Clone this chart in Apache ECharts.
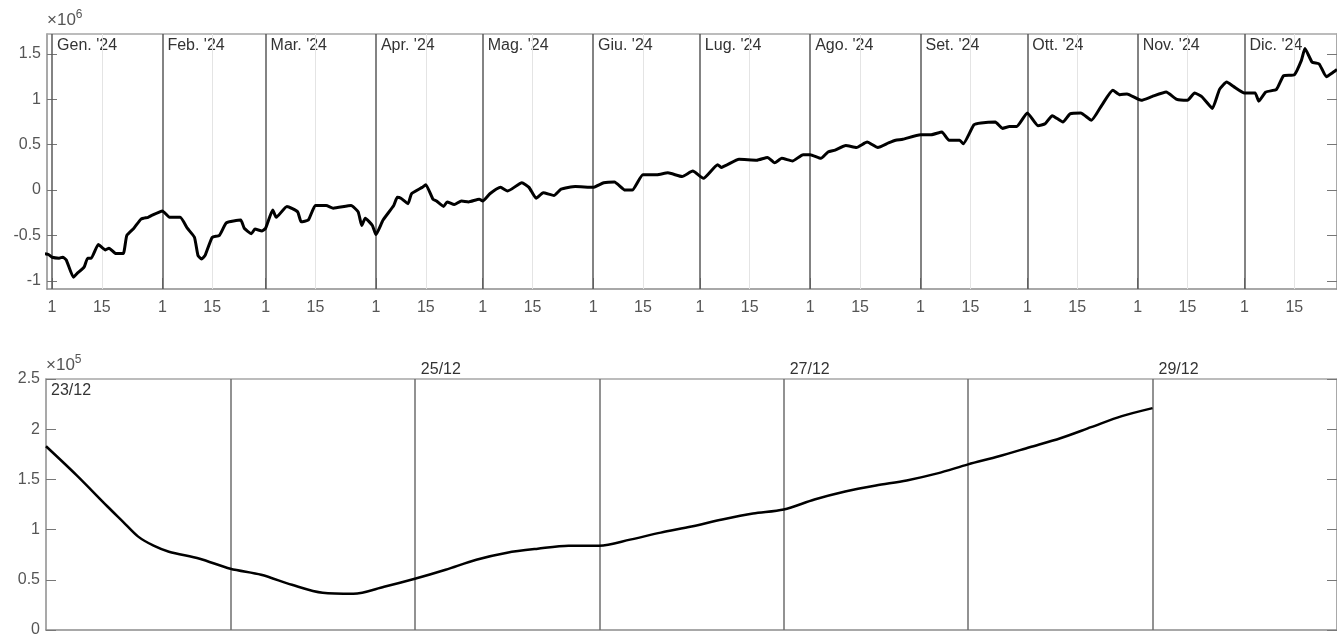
<!DOCTYPE html>
<html>
<head>
<meta charset="utf-8">
<script src="https://cdn.jsdelivr.net/npm/echarts@6/dist/echarts.min.js"></script>
<style>
html,body{margin:0;padding:0;background:#fff}
#chart{width:1337px;height:638px}
</style>
</head>
<body>
<div id="chart"></div>
<script>
// pannello annuale (valori in unità di 10^6)
var yearDates = ['2023-12-30','2023-12-31','2024-01-01','2024-01-03','2024-01-04','2024-01-05','2024-01-07','2024-01-08','2024-01-10','2024-01-11','2024-01-12','2024-01-14','2024-01-16','2024-01-17','2024-01-19','2024-01-21','2024-01-22','2024-01-24','2024-01-26','2024-01-28','2024-01-29',
  '2024-02-01','2024-02-03','2024-02-06','2024-02-08','2024-02-10','2024-02-11','2024-02-12','2024-02-13','2024-02-15','2024-02-17','2024-02-19','2024-02-23','2024-02-24','2024-02-26','2024-02-27','2024-02-29',
  '2024-03-01','2024-03-03','2024-03-04','2024-03-07','2024-03-10','2024-03-11','2024-03-13','2024-03-15','2024-03-18','2024-03-20','2024-03-25','2024-03-27','2024-03-28','2024-03-29','2024-03-31',
  '2024-04-01','2024-04-03','2024-04-06','2024-04-07','2024-04-08','2024-04-10','2024-04-11','2024-04-14','2024-04-15','2024-04-17','2024-04-18','2024-04-20','2024-04-21','2024-04-23','2024-04-25','2024-04-27','2024-04-30',
  '2024-05-01','2024-05-03','2024-05-06','2024-05-08','2024-05-12','2024-05-14','2024-05-16','2024-05-18','2024-05-21','2024-05-23','2024-05-27',
  '2024-06-01','2024-06-04','2024-06-07','2024-06-10','2024-06-12','2024-06-15','2024-06-19','2024-06-22','2024-06-26','2024-06-29',
  '2024-07-02','2024-07-06','2024-07-07','2024-07-12','2024-07-17','2024-07-20','2024-07-22','2024-07-24','2024-07-27','2024-07-30',
  '2024-08-01','2024-08-04','2024-08-06','2024-08-08','2024-08-11','2024-08-14','2024-08-17','2024-08-20','2024-08-23','2024-08-25','2024-08-27',
  '2024-09-01','2024-09-04','2024-09-07','2024-09-09','2024-09-12','2024-09-13','2024-09-16','2024-09-18','2024-09-22','2024-09-24','2024-09-26','2024-09-28',
  '2024-10-01','2024-10-04','2024-10-06','2024-10-08','2024-10-11','2024-10-13','2024-10-16','2024-10-19','2024-10-22','2024-10-25','2024-10-27','2024-10-29',
  '2024-11-02','2024-11-05','2024-11-09','2024-11-12','2024-11-15','2024-11-17','2024-11-19','2024-11-21','2024-11-22','2024-11-24','2024-11-26','2024-11-28',
  '2024-12-01','2024-12-04','2024-12-05','2024-12-07','2024-12-10','2024-12-12','2024-12-15','2024-12-17','2024-12-18','2024-12-20','2024-12-22','2024-12-24','2024-12-26','2024-12-27']
var yearValues = [-0.70,-0.71,-0.74,-0.75,-0.74,-0.77,-0.96,-0.92,-0.85,-0.75,-0.75,-0.60,-0.66,-0.64,-0.70,-0.70,-0.50,-0.42,-0.32,-0.30,-0.28,
  -0.23,-0.30,-0.30,-0.42,-0.52,-0.72,-0.76,-0.72,-0.52,-0.50,-0.36,-0.33,-0.42,-0.48,-0.43,-0.45,
  -0.42,-0.22,-0.30,-0.18,-0.24,-0.35,-0.33,-0.17,-0.17,-0.20,-0.17,-0.24,-0.39,-0.31,-0.39,
  -0.49,-0.33,-0.17,-0.08,-0.09,-0.15,-0.04,0.03,0.06,-0.10,-0.12,-0.18,-0.13,-0.16,-0.12,-0.13,-0.10,
  -0.12,-0.04,0.03,-0.01,0.08,0.03,-0.09,-0.03,-0.06,0.01,0.04,
  0.03,0.08,0.09,0.00,0.00,0.17,0.17,0.19,0.15,0.21,
  0.13,0.28,0.25,0.34,0.33,0.36,0.30,0.35,0.32,0.39,
  0.39,0.35,0.42,0.44,0.49,0.47,0.53,0.47,0.52,0.55,0.56,
  0.61,0.61,0.64,0.55,0.55,0.51,0.72,0.74,0.75,0.68,0.70,0.70,
  0.85,0.71,0.73,0.82,0.75,0.84,0.85,0.77,0.94,1.10,1.05,1.06,
  0.99,1.03,1.08,1.00,0.99,1.07,1.03,0.94,0.90,1.11,1.19,1.14,
  1.07,1.07,0.98,1.08,1.11,1.26,1.27,1.43,1.56,1.41,1.39,1.25,1.30,1.33]
var monthStarts = ['2024-01-01','2024-02-01','2024-03-01','2024-04-01','2024-05-01','2024-06-01','2024-07-01','2024-08-01','2024-09-01','2024-10-01','2024-11-01','2024-12-01']
var monthNames = ["Gen. '24","Feb. '24","Mar. '24","Apr. '24","Mag. '24","Giu. '24","Lug. '24","Ago. '24","Set. '24","Ott. '24","Nov. '24","Dic. '24"]
var midMonths = ['2024-01-15','2024-02-15','2024-03-15','2024-04-15','2024-05-15','2024-06-15','2024-07-15','2024-08-15','2024-09-15','2024-10-15','2024-11-15','2024-12-15']
var yearTicks = [-1,-0.5,0,0.5,1,1.5]

// pannello dettaglio 23-29/12 (valori in unità di 10^5)
var detailTimes = ['2024-12-23 00:00','2024-12-23 04:00','2024-12-23 08:00','2024-12-23 10:00','2024-12-23 12:00','2024-12-23 14:00','2024-12-23 16:00','2024-12-23 20:00',
  '2024-12-24 00:00','2024-12-24 04:00','2024-12-24 08:00','2024-12-24 12:00','2024-12-24 16:00','2024-12-24 20:00',
  '2024-12-25 00:00','2024-12-25 04:00','2024-12-25 08:00','2024-12-25 12:00','2024-12-25 16:00','2024-12-25 20:00',
  '2024-12-26 00:00','2024-12-26 04:00','2024-12-26 08:00','2024-12-26 12:00','2024-12-26 16:00','2024-12-26 20:00',
  '2024-12-27 00:00','2024-12-27 04:00','2024-12-27 08:00','2024-12-27 12:00','2024-12-27 16:00','2024-12-27 20:00',
  '2024-12-28 00:00','2024-12-28 04:00','2024-12-28 08:00','2024-12-28 12:00','2024-12-28 16:00','2024-12-28 20:00',
  '2024-12-29 00:00']
var detailValues = [1.83,1.54,1.23,1.08,0.93,0.84,0.78,0.71,
  0.61,0.55,0.45,0.37,0.36,0.43,
  0.51,0.60,0.70,0.77,0.81,0.84,
  0.84,0.90,0.97,1.03,1.10,1.16,
  1.20,1.30,1.38,1.44,1.49,1.56,
  1.65,1.73,1.82,1.91,2.02,2.13,
  2.21]
var dayLines = ['2024-12-24','2024-12-25','2024-12-26','2024-12-27','2024-12-28','2024-12-29']
var dayLabelDates = ['2024-12-25','2024-12-27','2024-12-29']
var firstDay = '2024-12-23'
var detailTicks = [0,0.5,1,1.5,2,2.5]

var ts = function(s){
  var p = s.split(/[- :]/)
  return new Date(+p[0], p[1]-1, +p[2], +(p[3]||0), +(p[4]||0)).getTime()
}
var ddmm = function(v){
  var d = new Date(v)
  var two = function(n){ return (n<10?'0':'')+n }
  return two(d.getDate())+'/'+two(d.getMonth()+1)
}

var chart = echarts.init(document.getElementById('chart'))
var axisGrey = '#8c8c8c'
var labelGrey = '#555'
var font = 'Liberation Sans, Arial, sans-serif'

var expName = function(e){
  return {
    name: '{a|×10}{b|'+e+'}',
    nameLocation: 'end',
    nameGap: 3,
    nameTextStyle: {
      align: 'left',
      verticalAlign: 'bottom',
      rich: {
        a: {fontSize: 17, color: labelGrey, fontFamily: font},
        b: {fontSize: 12, color: labelGrey, fontFamily: font, verticalAlign: 'top', padding: [0,0,10,0]}
      }
    }
  }
}

var yBase = function(grid, pos, min, max, ticks, labels){
  return {
    type: 'value', gridIndex: grid, position: pos, min: min, max: max,
    axisLine: {show: true, onZero: false, lineStyle: {color: axisGrey, width: 1.5}},
    axisTick: {show: true, inside: true, length: 10, customValues: ticks, lineStyle: {color: '#777'}},
    axisLabel: {show: labels, customValues: ticks, fontSize: 16, color: labelGrey, margin: 6, fontFamily: font},
    splitLine: {show: false}
  }
}

var yTop = yBase(0, 'left', -1.09, 1.72, yearTicks, true)
Object.assign(yTop, expName(6))
var yBottom = yBase(1, 'left', 0, 2.5, detailTicks, true)
Object.assign(yBottom, expName(5))

var yearData = yearDates.map(function(d,i){ return [ts(d), yearValues[i]] })
var detailData = detailTimes.map(function(d,i){ return [ts(d), detailValues[i]] })
var tickDates = monthStarts.concat(midMonths).map(ts).sort(function(a,b){return a-b})

var yearMin = ts('2023-12-30 14:00'), yearMax = ts('2024-12-27 00:00')
var detMin = ts('2024-12-23 00:00'), detMax = ts('2024-12-30 00:00')

var option = {
  animation: false,
  textStyle: {fontFamily: font},
  grid: [
    {left: 47, right: -2, top: 34, height: 255},
    {left: 46, right: -7, top: 379, height: 255}
  ],
  xAxis: [
    {
      type: 'value', gridIndex: 0, position: 'bottom', min: yearMin, max: yearMax,
      axisLine: {onZero: false, lineStyle: {color: axisGrey, width: 1.5}},
      axisTick: {show: true, inside: true, length: 11, customValues: tickDates, lineStyle: {color: '#777'}},
      axisLabel: {customValues: tickDates, formatter: function(v){ return String(new Date(v).getDate()) },
        fontSize: 16, color: labelGrey, margin: 11, fontFamily: font},
      splitLine: {show: false}
    },
    {
      type: 'value', gridIndex: 0, position: 'top', min: yearMin, max: yearMax,
      axisLine: {onZero: false, lineStyle: {color: '#a6a6a6', width: 1.5}},
      axisTick: {show: false},
      axisLabel: {inside: true, customValues: monthStarts.map(ts),
        formatter: function(v){ return monthNames[new Date(v).getMonth()] },
        align: 'left', padding: [0,0,0,5], margin: 4, fontSize: 16, color: '#333', fontFamily: font},
      splitLine: {show: false}
    },
    {
      type: 'value', gridIndex: 1, position: 'bottom', min: detMin, max: detMax,
      axisLine: {onZero: false, lineStyle: {color: axisGrey, width: 1.5}},
      axisTick: {show: false}, axisLabel: {show: false}, splitLine: {show: false}
    },
    {
      type: 'value', gridIndex: 1, position: 'top', min: detMin, max: detMax,
      axisLine: {onZero: false, lineStyle: {color: '#a6a6a6', width: 1.5}},
      axisTick: {show: false},
      axisLabel: {customValues: dayLabelDates.map(ts), formatter: ddmm,
        align: 'left', padding: [0,0,0,6], margin: 1, fontSize: 16, color: '#333', fontFamily: font},
      splitLine: {show: false}
    },
    {
      type: 'value', gridIndex: 1, position: 'top', min: detMin, max: detMax,
      axisLine: {show: false, onZero: false}, axisTick: {show: false},
      axisLabel: {inside: true, customValues: [ts(firstDay)], formatter: ddmm,
        align: 'left', padding: [0,0,0,5], margin: 4, fontSize: 16, color: '#333', fontFamily: font},
      splitLine: {show: false}
    }
  ],
  yAxis: [
    yTop,
    yBase(0, 'right', -1.09, 1.72, yearTicks, false),
    yBottom,
    yBase(1, 'right', 0, 2.5, detailTicks, false)
  ],
  series: [
    {
      type: 'line', xAxisIndex: 0, yAxisIndex: 0, z: 1,
      data: yearData, showSymbol: false, lineStyle: {opacity: 0}, silent: true,
      markLine: {
        z: 1, silent: true, symbol: ['none','none'], label: {show: false}, animation: false,
        data: midMonths.map(function(d){ return {xAxis: ts(d), lineStyle: {color: '#e4e4e4', width: 1, type: 'solid'}} })
          .concat(monthStarts.map(function(d){ return {xAxis: ts(d), lineStyle: {color: '#5a5a5a', width: 1.5, type: 'solid'}} }))
      }
    },
    {
      type: 'line', xAxisIndex: 0, yAxisIndex: 0, z: 8,
      data: yearData, showSymbol: false, smooth: 0.15,
      lineStyle: {color: '#000', width: 3, join: 'round'}
    },
    {
      type: 'line', xAxisIndex: 2, yAxisIndex: 2, z: 1,
      data: detailData, showSymbol: false, lineStyle: {opacity: 0}, silent: true,
      markLine: {
        z: 1, silent: true, symbol: ['none','none'], label: {show: false}, animation: false,
        data: dayLines.map(function(d){ return {xAxis: ts(d), lineStyle: {color: '#6e6e6e', width: 1.5, type: 'solid'}} })
      }
    },
    {
      type: 'line', xAxisIndex: 2, yAxisIndex: 2, z: 8,
      data: detailData, showSymbol: false, smooth: 0.3,
      lineStyle: {color: '#000', width: 2.5}
    }
  ]
}
chart.setOption(option)
</script>
</body>
</html>
